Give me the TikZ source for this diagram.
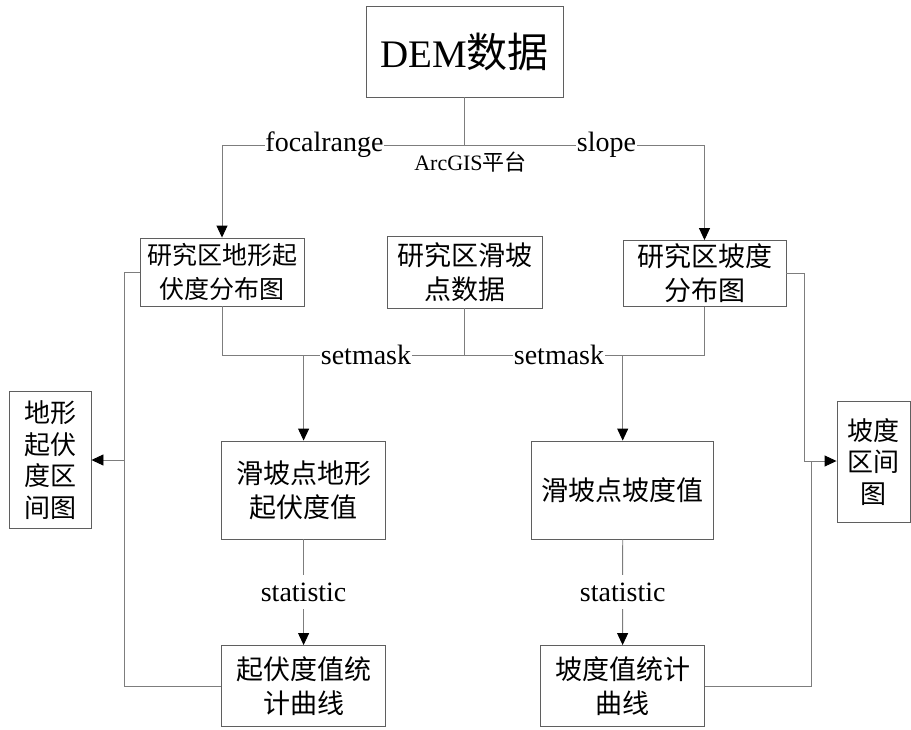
\documentclass[tikz,border=0pt]{standalone}
\usepackage{fontspec}
\setmainfont{Liberation Serif}
\newfontfamily\cjk{Noto Sans CJK SC}
\usetikzlibrary{arrows.meta}
\definecolor{lncol}{RGB}{125,125,125}
\definecolor{bdcol}{RGB}{95,95,95}
\begin{document}
\begin{tikzpicture}[x=1pt,y=-1pt,
  box/.style={draw=bdcol,line width=0.9pt,inner sep=0pt,align=center,text=black},
  conn/.style={draw=lncol,line width=0.9pt},
  arr/.style={conn,-{Triangle[length=12pt,width=11pt,color=black]}},
  lbl/.style={fill=white,inner xsep=0.5pt,inner ysep=3pt,font=\fontsize{28}{32}\selectfont},
  cjk25/.style={font=\cjk\fontsize{25}{34}\selectfont},
  cjk27/.style={font=\cjk\fontsize{27}{34}\selectfont},
  cjk26/.style={font=\cjk\fontsize{26}{31.5}\selectfont}]
\useasboundingbox (0,0) rectangle (911,729);
% boxes
\node[box,minimum width=197pt,minimum height=91pt] (dem) at (464.5,51.5)
  {\fontsize{39}{44}\selectfont DEM{\cjk\fontsize{41}{44}\selectfont 数据}};
\node[box,cjk25,minimum width=164pt,minimum height=68pt] (A) at (222,272) {研究区地形起\\伏度分布图};
\node[box,cjk27,minimum width=155pt,minimum height=72pt] (B) at (464.5,272) {研究区滑坡\\点数据};
\node[box,cjk27,minimum width=163pt,minimum height=66pt] (C) at (704.5,273.5) {研究区坡度\\分布图};
\node[box,cjk27,minimum width=164pt,minimum height=98pt] (D) at (303.6,490) {滑坡点地形\\起伏度值};
\node[box,cjk27,minimum width=182pt,minimum height=98pt] (E) at (622.7,490) {滑坡点坡度值};
\node[box,cjk27,minimum width=164pt,minimum height=81pt] (F) at (303.6,686) {起伏度值统\\计曲线};
\node[box,cjk27,minimum width=164pt,minimum height=81pt] (G) at (622.6,686) {坡度值统计\\曲线};
\node[box,cjk26,minimum width=82pt,minimum height=137pt] (H) at (50,460) {地形\\起伏\\度区\\间图};
\node[box,cjk26,minimum width=73pt,minimum height=121pt] (I) at (873.5,462) {坡度\\区间\\图};
% top split
\coordinate (t) at (464.5,145);
\draw[conn] (dem.south) -- (t);
\draw[arr] (t) -| (A.north);
\draw[arr] (t) -| (C.north);
\node[lbl] (fr) at (324.5,145) {focalrange};
\node[lbl] (sl) at (606.5,145) {slope};
\node[anchor=base,inner sep=0pt,font=\fontsize{22}{26}\selectfont] (arc) at (470.5,170) {ArcGIS{\cjk 平台}};
% setmask
\coordinate (m) at (464.5,355);
\draw[conn] (A.south) |- (C.south |- m) -- (C.south);
\draw[conn] (B.south) -- (m);
\draw[arr] (D.north |- m) -- (D.north);
\draw[arr] (E.north |- m) -- (E.north);
\node[lbl] (sm1) at (366,355) {setmask};
\node[lbl] (sm2) at (559,355) {setmask};
% statistic
\draw[arr] (D.south) -- (F.north);
\draw[arr] (E.south) -- (G.north);
\node[lbl,inner ysep=8pt] (st1) at (303.6,592) {statistic};
\node[lbl,inner ysep=8pt] (st2) at (622.7,592) {statistic};
% left side
\coordinate (L) at (124,460);
\draw[conn] (A.west) -| (L);
\draw[conn] (F.west) -| (L);
\draw[arr] (L) -- (H.east |- L);
% right side
\coordinate (R) at (804,461);
\coordinate (R2) at (811.7,461);
\draw[conn] (C.east) -| (R);
\draw[conn] (G.east) -| (R2);
\draw[arr] (R) -- (I.west |- R);
\end{tikzpicture}
\end{document}
